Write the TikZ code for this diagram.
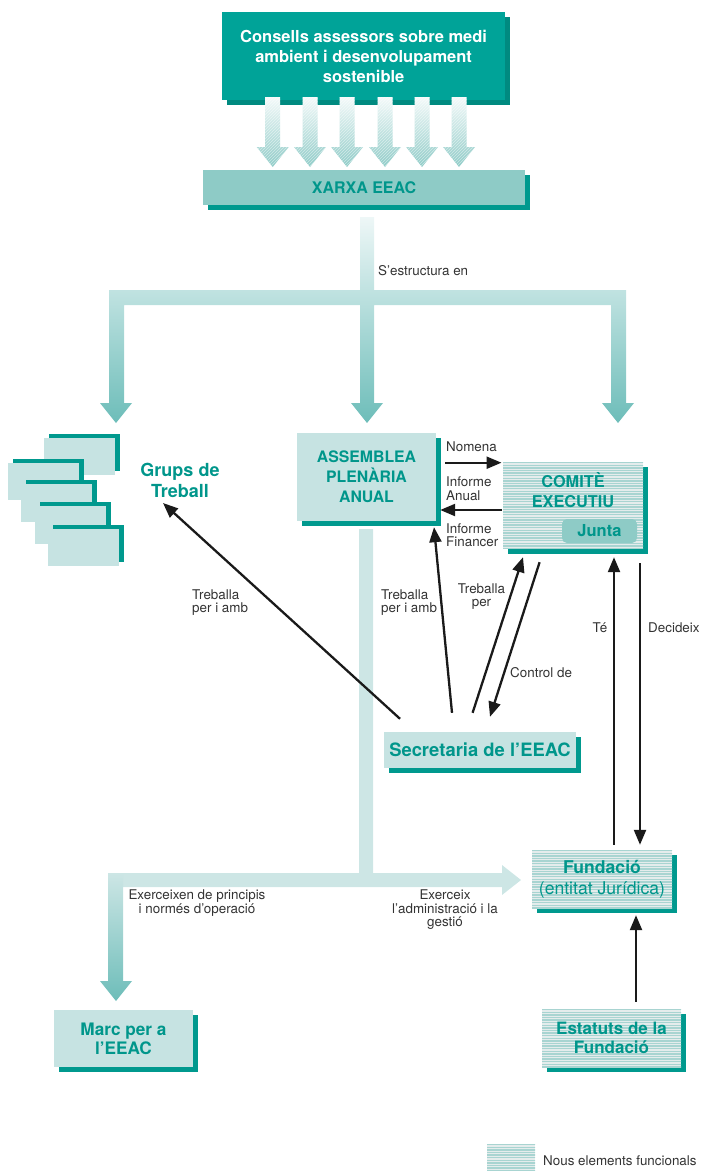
\documentclass[tikz,border=0pt]{standalone}
\usepackage{fontspec}
\setmainfont{TeX Gyre Heros}
\usetikzlibrary{arrows.meta,shadows,patterns,calc}
\definecolor{dteal}{HTML}{00998E}
\definecolor{cteal}{HTML}{00A398}
\definecolor{cshadow}{HTML}{008A80}
\definecolor{lteal}{HTML}{C6E3E2}
\definecolor{mteal}{HTML}{8ECBC6}
\definecolor{tteal}{HTML}{00968B}
\definecolor{hbase}{HTML}{E4ECEC}
\definecolor{hline}{HTML}{A8D4D1}
\definecolor{gtop}{HTML}{EEF7F7}
\definecolor{gbot}{HTML}{6DBDB9}
\definecolor{atop}{HTML}{F4FAFA}
\definecolor{abot}{HTML}{8ECBC7}
\definecolor{barc}{HTML}{CDE6E5}
\definecolor{lbl}{HTML}{333333}
\definecolor{arr}{HTML}{1A1A1A}
\tikzset{
  shad/.style={drop shadow={shadow xshift=5pt,shadow yshift=-5pt,fill=dteal,opacity=1}},
  box/.style={shad,fill=lteal,inner sep=0pt,align=center,text=tteal,font=\fontsize{16}{20}\selectfont\bfseries},
  stripes/.style={fill=hbase,path picture={
     \foreach \i in {0,2.6,...,130}{
       \fill[hline] ($(path picture bounding box.north west)+(0,\i)$) rectangle ++(200,1.3);}}},
  hbox/.style={shad,stripes,inner sep=0pt,align=center,text=tteal},
  lab/.style={text=lbl,font=\fontsize{13.4}{13.5}\selectfont,inner sep=0pt,align=left},
  conn/.style={draw=arr,line width=2.3pt,-{Triangle[length=15pt,width=12pt]}},
  grp/.style={fill=lteal},
  grpd/.style={fill=dteal},
}
\begin{document}
\begin{tikzpicture}[x=1pt,y=-1pt]
\useasboundingbox (0,0) rectangle (701,1172);
% top box
\node[drop shadow={shadow xshift=5pt,shadow yshift=-5pt,fill=cshadow,opacity=1},fill=cteal,inner sep=0pt,
  minimum width=283pt,minimum height=88pt,align=center,text=white,
  font=\fontsize{16.5}{20}\selectfont\bfseries] (cons) at (363.6,56)
  {Consells assessors sobre medi\\ambient i desenvolupament\\sostenible};
% six hatched arrows
\foreach \x in {272.7,310,347,385,422,459}{
  \shade[top color=atop,bottom color=abot] (\x-7.5,97) -- (\x+7.5,97) -- (\x+7.5,147) -- (\x+16,147) -- (\x,167) -- (\x-16,147) -- (\x-7.5,147) -- cycle;
  \fill[pattern=north east lines,pattern color=white,opacity=0.5] (\x-7.5,97) -- (\x+7.5,97) -- (\x+7.5,147) -- (\x+16,147) -- (\x,167) -- (\x-16,147) -- (\x-7.5,147) -- cycle;
}
\node[box,fill=mteal,minimum width=322pt,minimum height=35pt] (xarxa) at (364,187.5) {XARXA EEAC};
% upper tree arrow
\shade[top color=gtop,bottom color=gbot]
 (360,217) -- (374,217) -- (374,290) -- (626,290) -- (626,403) -- (634,403) -- (618,423) -- (602,403) -- (611,403)
 -- (611,305) -- (374,305) -- (374,403) -- (383,403) -- (367,423) -- (351,403) -- (360,403) -- (360,305)
 -- (124,305) -- (124,403) -- (132,403) -- (116,423) -- (100,403) -- (109,403) -- (109,290) -- (360,290) -- cycle;
\node[lab,anchor=west] (lstr) at (378,271) {S’estructura en};
% lower tree
\fill[barc] (123,873) -- (359,873) -- (359,529) -- (373,529) -- (373,873) -- (502,873) -- (502,865) -- (521,880)
 -- (502,895) -- (502,887) -- (123,887) -- cycle;
\shade[top color=barc,bottom color=gbot] (108,873) -- (123,873) -- (123,981) -- (132,981) -- (116,1001) -- (100,981) -- (108,981) -- cycle;
% grups stack
\fill[grpd] (48.5,433.5) rectangle (119.5,470.5); \fill[grp] (44,438) rectangle (115,475);
\fill[grpd] (12.5,458.5) rectangle (83.5,495.5); \fill[grp] (8,463) rectangle (79,500);
\fill[grpd] (25.5,479.5) rectangle (96.5,517.5); \fill[grp] (21,484) rectangle (92,522);
\fill[grpd] (39.5,501.5) rectangle (110.5,539.5); \fill[grp] (35,506) rectangle (106,544);
\fill[grpd] (52.5,524.5) rectangle (123.5,561.5); \fill[grp] (48,529) rectangle (119,566);
\node[text=tteal,align=center,inner sep=0pt,font=\fontsize{18}{21}\selectfont\bfseries] (grups) at (180,480) {Grups de\\Treball};
% assembly
\node[box,minimum width=139pt,minimum height=88pt,font=\fontsize{15.8}{20}\selectfont\bfseries] (asm) at (366.5,477) {ASSEMBLEA\\PLENÀRIA\\ANUAL};
% comite
\node[hbox,minimum width=140pt,minimum height=87pt] (com) at (573,505.5) {};
\node[text=tteal,align=center,inner sep=0pt,font=\fontsize{16.3}{20}\selectfont\bfseries] (comlbl) at (573,490) {COMITÈ\\EXECUTIU};
\node[fill=mteal,rounded corners=5pt,minimum width=75pt,minimum height=24pt,inner sep=0pt,text=tteal,font=\fontsize{16.5}{20}\selectfont\bfseries] (junta) at (599.5,531) {Junta};
% secretaria
\node[box,minimum width=192pt,minimum height=36pt,font=\fontsize{18.4}{21}\selectfont\bfseries] (secr) at (480,750) {Secretaria de l’EEAC};
% fundacio
\node[hbox,minimum width=140pt,minimum height=58pt,font=\fontsize{17.6}{21}\selectfont] (fund) at (602,879) {{\bfseries Fundació}\\(entitat Jurídica)};
\node[hbox,minimum width=139pt,minimum height=58pt,font=\fontsize{17}{19.7}\selectfont\bfseries] (estat) at (611.5,1038) {Estatuts de la\\Fundació};
\node[box,minimum width=139pt,minimum height=57pt,font=\fontsize{17.2}{19}\selectfont\bfseries] (marc) at (123.5,1038.5) {Marc per a\\l’EEAC};
% legend
\node[stripes,minimum width=48pt,minimum height=27pt,inner sep=0pt] (leg) at (511,1157.5) {};
\node[lab,anchor=west] (legt) at (543,1161) {Nous elements funcionals};
% connectors
\draw[conn] ($(asm.east)+(9,-14.3)$) -- ($(com.west)+(-1.3,-42.8)$);
\draw[conn] ($(com.west)+(-1.3,4.5)$) -- ($(asm.east)+(4,33)$);
\draw[conn] ($(secr.north)+(-28,-19)$) -- ($(asm.south)+(67.5,6)$);
\draw[conn] ($(secr.north)+(-7.4,-19)$) -- ($(com.south)+(-50,8)$);
\draw[conn] ($(com.south)+(-33.4,13)$) -- ($(secr.north)+(10,-15)$);
\draw[conn] ($(secr.north)+(-80,-13)$) -- ($(grups.center)+(-17,23)$);
\draw[conn] ($(fund.north)+(12,-5)$) -- ($(com.south)+(41,8)$);
\draw[conn] ($(com.south)+(67,14)$) -- ($(fund.north)+(38,-5)$);
\draw[conn] ($(estat.north)+(24.5,-7)$) -- ($(fund.south)+(34,7)$);
% labels
\node[lab,anchor=west] (lnom) at (446,447) {Nomena};
\node[lab,anchor=west] (lia) at (446,488.5) {Informe\\Anual};
\node[lab,anchor=west] (lif) at (446,535) {Informe\\Financer};
\node[lab,anchor=west] (ltpa1) at (192,602.5) {Treballa\\per i amb};
\node[lab,anchor=west] (ltpa2) at (381,602.5) {Treballa\\per i amb};
\node[lab,align=center] (ltp) at (481.5,596.5) {Treballa\\per};
\node[lab,anchor=west] (lctl) at (510,672.7) {Control de};
\node[lab,anchor=west] (lte) at (592.5,628) {Té};
\node[lab,anchor=west] (ldec) at (648,628) {Decideix};
\node[lab,align=center] (lex1) at (197,903.3) {Exerceixen de principis\\i normés d’operació};
\node[lab,align=center] (lex2) at (445,910) {Exerceix\\l’administració i la\\gestió};
\end{tikzpicture}
\end{document}
